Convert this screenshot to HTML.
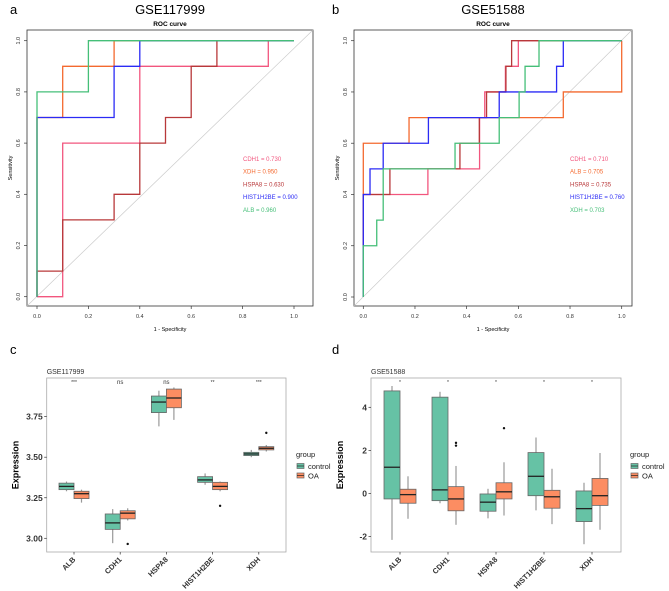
<!DOCTYPE html>
<html><head><meta charset="utf-8"><style>
html,body{margin:0;padding:0;background:#fff}
svg{display:block;font-family:"Liberation Sans",sans-serif}
</style></head><body>
<svg id="fig" width="669" height="591" viewBox="0 0 669 591"></svg>
<script>
// ---------- ROC data ----------
const rocA_names = ["CDH1","XDH","HSPA8","HIST1H2BE","ALB"];
const rocA_auc = ["0.730","0.950","0.630","0.900","0.960"];
const rocA_colors = ["#f2567e","#f4692f","#b8383a","#2b2bf5","#45bf78"];
const rocA_cdh1 = [[0,0],[0.1,0],[0.1,0.6],[0.4,0.6],[0.4,0.9],[0.9,0.9],[0.9,1],[1,1]];
const rocA_xdh = [[0,0],[0,0.7],[0.1,0.7],[0.1,0.9],[0.3,0.9],[0.3,1],[1,1]];
const rocA_hspa8 = [[0,0],[0,0.1],[0.1,0.1],[0.1,0.3],[0.3,0.3],[0.3,0.4],[0.4,0.4],[0.4,0.6],[0.5,0.6],[0.5,0.7],[0.6,0.7],[0.6,0.9],[0.7,0.9],[0.7,1],[1,1]];
const rocA_hist = [[0,0],[0,0.7],[0.3,0.7],[0.3,0.9],[0.4,0.9],[0.4,1],[1,1]];
const rocA_alb = [[0,0],[0,0.8],[0.2,0.8],[0.2,1],[1,1]];

const rocB_names = ["CDH1","ALB","HSPA8","HIST1H2BE","XDH"];
const rocB_auc = ["0.710","0.705","0.735","0.760","0.703"];
const rocB_colors = ["#f2567e","#f4692f","#b8383a","#2b2bf5","#45bf78"];
const rocB_cdh1 = [[0,0],[0,0.4],[0.25,0.4],[0.25,0.5],[0.45,0.5],[0.45,0.7],[0.47,0.7],[0.47,0.8],[0.55,0.8],[0.55,0.9],[0.6,0.9],[0.6,1],[1,1]];
const rocB_alb = [[0,0],[0,0.6],[0.177,0.6],[0.177,0.7],[0.774,0.7],[0.774,0.8],[1,0.8],[1,1]];
const rocB_hspa8 = [[0,0],[0,0.4],[0.103,0.4],[0.103,0.5],[0.374,0.5],[0.374,0.6],[0.449,0.6],[0.449,0.7],[0.477,0.7],[0.477,0.8],[0.552,0.8],[0.552,0.9],[0.574,0.9],[0.574,1],[1,1]];
const rocB_hist = [[0,0],[0,0.4],[0.026,0.4],[0.026,0.5],[0.077,0.5],[0.077,0.6],[0.252,0.6],[0.252,0.7],[0.526,0.7],[0.526,0.8],[0.748,0.8],[0.748,0.9],[0.774,0.9],[0.774,1],[1,1]];
const rocB_xdh = [[0,0],[0,0.2],[0.052,0.2],[0.052,0.3],[0.077,0.3],[0.077,0.5],[0.355,0.5],[0.355,0.6],[0.526,0.6],[0.526,0.7],[0.603,0.7],[0.603,0.8],[0.626,0.8],[0.626,0.9],[0.68,0.9],[0.68,1],[1,1]];
const rocTicks = [0,0.2,0.4,0.6,0.8,1.0];

// ---------- Boxplot data ----------
const genes = ["ALB","CDH1","HSPA8","HIST1H2BE","XDH"];
// [whiskerLow, q1, median, q3, whiskerHigh]
const c_control = [[3.29,3.30,3.32,3.34,3.35],[2.97,3.055,3.095,3.15,3.18],[3.69,3.775,3.84,3.877,3.91],[3.33,3.345,3.36,3.38,3.40],[3.50,3.51,3.52,3.53,3.545]];
const c_oa = [[3.22,3.245,3.275,3.29,3.30],[3.11,3.12,3.155,3.17,3.185],[3.73,3.805,3.865,3.92,3.93],[3.29,3.30,3.32,3.345,3.35],[3.535,3.545,3.555,3.565,3.575]];
const c_out_control = [[],[],[],[],[]];
const c_out_oa = [[],[2.965],[],[3.20],[3.65]];
const c_sig = ["***","ns","ns","**","***"];
const c_ticks = [3.00,3.25,3.50,3.75];
const c_tickLabels = ["3.00","3.25","3.50","3.75"];

const d_control = [[-2.15,-0.25,1.22,4.76,4.99],[-0.45,-0.33,0.17,4.47,4.72],[-1.15,-0.82,-0.4,-0.02,0.22],[-0.78,-0.1,0.8,1.9,2.6],[-2.35,-1.3,-0.7,0.12,0.5]];
const d_oa = [[-1.17,-0.45,-0.05,0.2,0.8],[-1.45,-0.8,-0.25,0.32,1.28],[-1.02,-0.25,0.08,0.5,1.45],[-1.42,-0.68,-0.15,0.15,1.15],[-1.68,-0.55,-0.1,0.7,1.88]];
const d_out_control = [[],[],[],[],[]];
const d_out_oa = [[],[2.35,2.22],[3.03],[],[]];
const d_sig = ["*","*","*","*","*"];
const d_ticks = [-2,0,2,4];
const d_tickLabels = ["-2","0","2","4"];

const NS="http://www.w3.org/2000/svg";
const svg=document.getElementById('fig');
function mk(tag,attrs,parent){const e=document.createElementNS(NS,tag);for(const k in attrs)e.setAttribute(k,attrs[k]);(parent||svg).appendChild(e);return e;}
function txt(x,y,s,attrs,parent){const t=mk('text',Object.assign({x:x,y:y},attrs||{}),parent);t.textContent=s;return t;}

// ---------- ROC panel ----------
function roc(g,box,x0,x1,y0,y1,curves,names,aucs,colors,legX,title,letter,letterX){
  const sx=v=>x0+(x1-x0)*v, sy=v=>y0-(y0-y1)*v;
  const L=txt(letterX,14,letter,{'font-size':13});
  
  
  const T=txt((box[0]+box[2])/2,14,title,{'font-size':13,'text-anchor':'middle'});
  
  
  const S=txt((box[0]+box[2])/2,26,"ROC curve",{'font-size':6.5,'font-weight':'bold','text-anchor':'middle'});
  
  
  const r=mk('rect',{x:box[0],y:box[1],width:box[2]-box[0],height:box[3]-box[1],fill:'none',stroke:'#333','stroke-width':0.8},g);
  
  
  const dg=mk('line',{x1:box[0],y1:box[3],x2:box[2],y2:box[1],stroke:'#ccc','stroke-width':0.7},g);
  
  
  rocTicks.forEach(t=>{
    mk('line',{x1:sx(t),y1:box[3],x2:sx(t),y2:box[3]+3,stroke:'#333','stroke-width':0.7},g);
    const a=txt(sx(t),box[3]+12,t.toFixed(1),{'font-size':5.5,'text-anchor':'middle',fill:'#333'},g);
    
    
    mk('line',{x1:box[0],y1:sy(t),x2:box[0]-3,y2:sy(t),stroke:'#333','stroke-width':0.7},g);
    const b=txt(box[0]-7,sy(t),t.toFixed(1),{'font-size':5.5,'text-anchor':'middle',fill:'#333',transform:`rotate(-90 ${box[0]-7} ${sy(t)})`},g);
    
    
  });
  const xl=txt((box[0]+box[2])/2,box[3]+25,"1 - Specificity",{'font-size':5.5,'text-anchor':'middle'},g);
  
  
  const yl=txt(box[0]-15,(box[1]+box[3])/2,"Sensitivity",{'font-size':5.5,'text-anchor':'middle',transform:`rotate(-90 ${box[0]-15} ${(box[1]+box[3])/2})`},g);
  
  
  curves.forEach((c,i)=>{
    const p=mk('polyline',{points:c.map(q=>sx(q[0])+','+sy(q[1])).join(' '),fill:'none',stroke:colors[i],'stroke-width':1.3},g);
    
    
    const l=txt(legX,161+i*12.7,names[i]+" = "+aucs[i],{'font-size':6,fill:colors[i]},g);
    
    
  });
}
const gA=mk('g',{});


roc(gA,[27,30,313,306],37,294,296.7,40.7,[rocA_cdh1,rocA_xdh,rocA_hspa8,rocA_hist,rocA_alb],rocA_names,rocA_auc,rocA_colors,243,"GSE117999","a",10);
const gB=mk('g',{});


roc(gB,[354,30,632,306],363.3,621.7,297,40.7,[rocB_cdh1,rocB_alb,rocB_hspa8,rocB_hist,rocB_xdh],rocB_names,rocB_auc,rocB_colors,570,"GSE51588","b",332);

// ---------- Boxplot panel ----------
function boxp(g,box,cat0,catStep,bw,yOf,ctrl,oa,outC,outO,sig,ticks,tickLabels,title,letter,letterX,legX){
  const L=txt(letterX,354,letter,{'font-size':13});
  
  
  const T=txt(box[0],374,title,{'font-size':7,fill:'#333'},g);
  
  
  const r=mk('rect',{x:box[0],y:box[1],width:box[2]-box[0],height:box[3]-box[1],fill:'#fff',stroke:'#aaa','stroke-width':0.8},g);
  
  
  ticks.forEach((t,i)=>{
    mk('line',{x1:box[0]-2.5,y1:yOf(t),x2:box[0],y2:yOf(t),stroke:'#333','stroke-width':0.7},g);
    const a=txt(box[0]-4,yOf(t)+3,tickLabels[i],{'font-size':8.5,'font-weight':'bold','text-anchor':'end',fill:'#333'},g);
    
    
  });
  const yt=txt(box[0]-28,(box[1]+box[3])/2,"Expression",{'font-size':9,'font-weight':'bold','text-anchor':'middle',transform:`rotate(-90 ${box[0]-28} ${(box[1]+box[3])/2})`},g);
  
  
  genes.forEach((gname,i)=>{
    const cx=cat0+catStep*i;
    mk('line',{x1:cx,y1:box[3],x2:cx,y2:box[3]+2.5,stroke:'#333','stroke-width':0.7},g);
    const xl=txt(cx+2,box[3]+8,gname,{'font-size':7.5,'font-weight':'bold','text-anchor':'end',fill:'#333',transform:`rotate(-45 ${cx+2} ${box[3]+8})`},g);
    
    
    const s=txt(cx,box[1]+6,sig[i],{'font-size':sig[i]==='ns'?6:5,'text-anchor':'middle',fill:'#333'},g);
    
    
    [[ctrl[i],outC[i],-1,'#66c2a5','control'],[oa[i],outO[i],1,'#fc8d62','oa']].forEach(([v,outs,side,col,grp])=>{
      const bx=cx+side*bw/2;
      const w=mk('line',{x1:bx,y1:yOf(v[0]),x2:bx,y2:yOf(v[4]),stroke:'#999','stroke-width':1.2},g);
      
      
      const b=mk('rect',{x:bx-bw/2,y:yOf(v[3]),width:bw,height:Math.max(0.5,yOf(v[1])-yOf(v[3])),fill:col,stroke:'#666','stroke-width':0.8},g);
      
      
      const m=mk('line',{x1:bx-bw/2,y1:yOf(v[2]),x2:bx+bw/2,y2:yOf(v[2]),stroke:'#222','stroke-width':1.3},g);
      
      
      outs.forEach(o=>{
        const c=mk('circle',{cx:bx,cy:yOf(o),r:1.2,fill:'#111'},g);
        
        
      });
    });
  });
  const gt=txt(legX,457,"group",{'font-size':7.5,fill:'#222'},g);
  
  
  [['#66c2a5','control'],['#fc8d62','OA']].forEach(([col,lab],k)=>{
    const y=462+k*9.5;
    const kr=mk('rect',{x:legX+1,y:y+1.5,width:7,height:5,fill:col,stroke:'#666','stroke-width':0.7},g);
    
    
    mk('line',{x1:legX+1,y1:y+4,x2:legX+8,y2:y+4,stroke:'#222','stroke-width':0.7},g);
    const lt=txt(legX+12,y+7,lab,{'font-size':7.5,fill:'#222'},g);
    
    
  });
}
const gC=mk('g',{});


boxp(gC,[46.7,378,286,552],74,46.2,15,v=>538.3-(v-3.0)*162.2,c_control,c_oa,c_out_control,c_out_oa,c_sig,c_ticks,c_tickLabels,"GSE117999","c",10,296);
const gD=mk('g',{});


boxp(gD,[371,378,621,552],400,48,16,v=>407.3-(v-4)*21.56,d_control,d_oa,d_out_control,d_out_oa,d_sig,d_ticks,d_tickLabels,"GSE51588","d",332,630);
</script>
</body></html>
